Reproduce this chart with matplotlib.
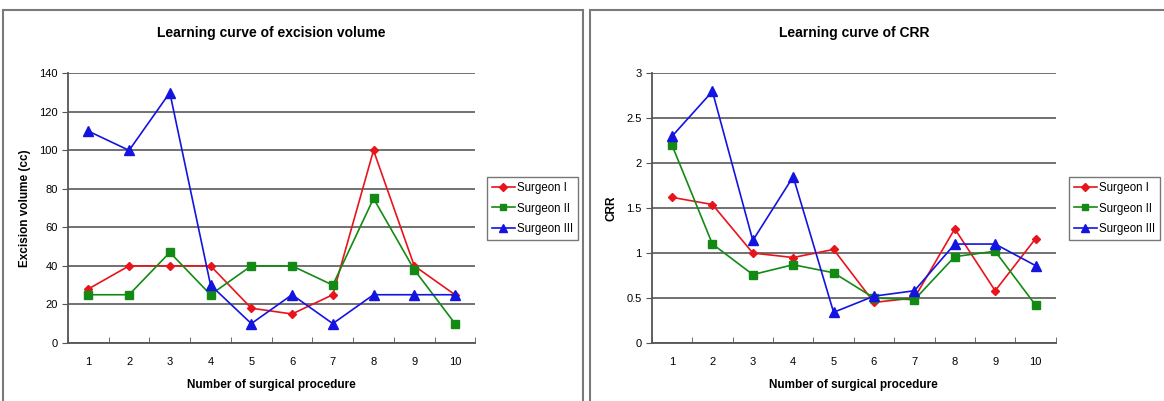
import numpy as np
import matplotlib.pyplot as plt
from matplotlib.patches import Rectangle
from matplotlib.ticker import FormatStrFormatter

plt.rcParams['font.family'] = ['Liberation Sans', 'DejaVu Sans']

procedures = list(range(1, 11))
surgeons = ['Surgeon I', 'Surgeon II', 'Surgeon III']

# excision volume (cc)
vol_s1 = [28, 40, 40, 40, 18, 15, 25, 100, 40, 25]
vol_s2 = [25, 25, 47, 25, 40, 40, 30, 75, 38, 10]
vol_s3 = [110, 100, 130, 30, 10, 25, 10, 25, 25, 25]

# CRR
crr_s1 = [1.62, 1.54, 1.0, 0.95, 1.04, 0.45, 0.5, 1.27, 0.58, 1.16]
crr_s2 = [2.2, 1.1, 0.76, 0.87, 0.78, 0.5, 0.48, 0.96, 1.02, 0.42]
crr_s3 = [2.3, 2.8, 1.14, 1.85, 0.34, 0.52, 0.58, 1.1, 1.1, 0.86]

colors = ['#e8141c', '#138a13', '#1414e0']
markers = ['D', 's', '^']
msizes = [4.5, 6, 7]

fig = plt.figure(figsize=(11.64, 4.01), dpi=100)

# panel frames
for x0, w in [(0.003, 0.498), (0.507, 0.495)]:
    fig.patches.append(Rectangle((x0, -0.05), w, 1.025, transform=fig.transFigure,
                                 fill=False, edgecolor='#7a7a7a', linewidth=1.5))


def draw_panel(rect, series, yticks, ylabel, title, legend_pos):
    ax = fig.add_axes(rect)
    for vals, name, c, m, ms in zip(series, surgeons, colors, markers, msizes):
        ax.plot(procedures, vals, color=c, marker=m, markersize=ms, linewidth=1.2,
                label=name, clip_on=False, zorder=3)
    ax.set_xlim(0.5, 10.5)
    ax.set_ylim(yticks[0], yticks[-1])
    ax.set_yticks(yticks)
    ax.yaxis.set_major_formatter(FormatStrFormatter('%g'))
    ax.set_xticks(procedures)
    ax.set_xticks(np.arange(0.5, 11, 1), minor=True)
    ax.tick_params(axis='x', which='major', length=0, labelsize=8, pad=10)
    ax.tick_params(axis='x', which='minor', length=4, color='#555555', direction='in')
    ax.tick_params(axis='y', length=4, labelsize=8, color='#555555')
    ax.grid(axis='y', color='#666666', linewidth=1.3)
    ax.set_axisbelow(True)
    for s in ['top', 'right']:
        ax.spines[s].set_visible(False)
    for s in ['left', 'bottom']:
        ax.spines[s].set_color('#555555')
        ax.spines[s].set_linewidth(1.3)
    ax.set_xlabel('Number of surgical procedure', fontsize=8.5, fontweight='bold', labelpad=9)
    ax.set_ylabel(ylabel, fontsize=8.5, fontweight='bold', labelpad=6)
    ax.set_title(title, fontsize=10, fontweight='bold', pad=26)
    fig.legend(*ax.get_legend_handles_labels(), loc='center left', bbox_to_anchor=legend_pos,
               fontsize=8.3, frameon=True, fancybox=False, edgecolor='#555555',
               handlelength=2.0, handletextpad=0.2, borderpad=0.45, labelspacing=0.75,
               borderaxespad=0, markerscale=0.8)
    return ax


draw_panel([0.0584, 0.145, 0.350, 0.672],
           [vol_s1, vol_s2, vol_s3], list(range(0, 141, 20)),
           'Excision volume (cc)', 'Learning curve of excision volume', (0.418, 0.48))
draw_panel([0.560, 0.145, 0.347, 0.672],
           [crr_s1, crr_s2, crr_s3], [0, 0.5, 1, 1.5, 2, 2.5, 3],
           'CRR', 'Learning curve of CRR', (0.918, 0.48))

fig.savefig('out.png', dpi=100)
